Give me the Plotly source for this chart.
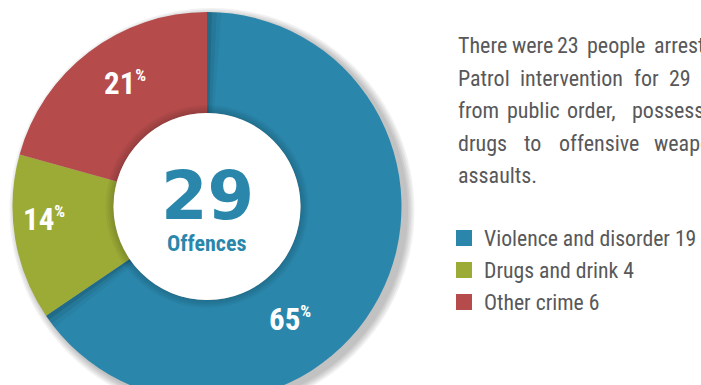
import plotly.graph_objects as go

# ---- data -------------------------------------------------------------
categories = ["Violence and disorder", "Drugs and drink", "Other crime"]
counts = [19, 4, 6]
colors = ["#2a87ab", "#9cab36", "#b54b4b"]
total_label = "Offences"

# summary paragraph, word by word (text, left edge in px)
summary_lines = [
    [("There", 456), ("were", 510), ("23", 555), ("people", 585), ("arrested", 652)],
    [("Patrol", 456), ("intervention", 518), ("for", 632), ("29", 667), ("offences", 700)],
    [("from", 456), ("public", 505), ("order,", 565), ("possession", 630)],
    [("drugs", 456), ("to", 522), ("offensive", 557), ("weapons", 652)],
    [("assaults.", 456)],
]

# ---- helpers ------------------------------------------------------------
W, H = 701, 430
FONT_NARROW = "Roboto Condensed, Liberation Sans Narrow, sans-serif"
TEXT_GREY = "#58585a"
CLEAR = "rgba(0,0,0,0)"


def px(x):
    return x / W


def py(y):
    return 1 - y / H


def disc_domain(cx, cy, r):
    return dict(x=[(cx - r) / W, (cx + r) / W], y=[1 - (cy + r) / H, 1 - (cy - r) / H])


def rounded_percents(vals):
    """Largest-remainder rounding so the shares add up to 100."""
    tot = sum(vals)
    raw = [100 * v / tot for v in vals]
    base = [int(p) for p in raw]
    left = 100 - sum(base)
    order = sorted(range(len(vals)), key=lambda i: raw[i] - base[i], reverse=True)
    for i in order[:left]:
        base[i] += 1
    return base


CX, CY, R = 207, 206.5, 194.5
HOLE_R = 93.5
total = sum(counts)

fig = go.Figure()

# soft drop shadow, thrown down and to the right
for k in range(1, 6):
    fig.add_trace(go.Pie(
        values=[1], marker=dict(colors=["rgba(0,0,0,0.05)"]),
        textinfo="none", hoverinfo="skip", showlegend=False, sort=False,
        domain=disc_domain(CX + 5, CY + 4, R + 1.6 * k),
    ))

# the donut itself
fig.add_trace(go.Pie(
    values=counts, labels=categories, hole=HOLE_R / R,
    sort=False, direction="clockwise", rotation=0,
    marker=dict(colors=colors, line=dict(width=0)),
    textinfo="none", showlegend=False,
    domain=disc_domain(CX, CY, R),
))

# shading on the blue segment where its neighbours overlap it
blue_end = counts[0] / total
for width, alpha in [(0.004, 0.10), (0.008, 0.07), (0.012, 0.04)]:
    for start in (0.0, blue_end - width):
        fig.add_trace(go.Pie(
            values=[start, width, 1 - start - width], hole=HOLE_R / R,
            sort=False, direction="clockwise", rotation=0,
            marker=dict(colors=[CLEAR, f"rgba(0,0,0,{alpha})", CLEAR], line=dict(width=0)),
            textinfo="none", hoverinfo="skip", showlegend=False,
            domain=disc_domain(CX, CY, R),
        ))

# raised centre disc casting a faint shadow on the ring
for k in (8, 6, 4, 2):
    fig.add_trace(go.Pie(
        values=[1], marker=dict(colors=["rgba(0,0,0,0.04)"]),
        textinfo="none", hoverinfo="skip", showlegend=False, sort=False,
        domain=disc_domain(CX, CY, HOLE_R + k),
    ))
fig.add_trace(go.Pie(
    values=[1], marker=dict(colors=["#ffffff"]),
    textinfo="none", hoverinfo="skip", showlegend=False, sort=False,
    domain=disc_domain(CX, CY, HOLE_R),
))

annotations = []

# centre total
annotations.append(dict(
    text=f"<b>{total}</b>", x=px(207.5), y=py(195.5),
    font=dict(family="DejaVu Sans", size=67, color=colors[0]),
))
annotations.append(dict(
    text=f"<b>{total_label}</b>", x=px(206.5), y=py(243),
    font=dict(family=FONT_NARROW, size=22, color=colors[0]),
))

# slice percentages
pcts = rounded_percents(counts)
label_pos = [(290, 319), (44, 219), (125, 83)]
for p, (lx, ly) in zip(pcts, label_pos):
    annotations.append(dict(
        text=f"<b>{p}<sup><span style='font-size:17px'>%</span></sup></b>",
        x=px(lx), y=py(ly),
        font=dict(family=FONT_NARROW, size=31, color="#ffffff"),
    ))

# paragraph
line_centres = [45.5, 78, 110.5, 143, 175.5]
for words, yc in zip(summary_lines, line_centres):
    for w, x0 in words:
        annotations.append(dict(
            text=w, x=px(x0), y=py(yc), xanchor="left",
            font=dict(family=FONT_NARROW, size=22, color=TEXT_GREY),
        ))

# legend
shapes = []
legend_rows = [238, 270, 302]
for cat, n, col, yc in zip(categories, counts, colors, legend_rows):
    shapes.append(dict(
        type="rect", xref="paper", yref="paper",
        x0=px(456), x1=px(472), y0=py(yc + 8), y1=py(yc - 8),
        fillcolor=col, line=dict(width=0),
    ))
    annotations.append(dict(
        text=f"{cat} {n}", x=px(482), y=py(yc + 0.5), xanchor="left",
        font=dict(family=FONT_NARROW, size=21.7, color=TEXT_GREY),
    ))

for a in annotations:
    a.setdefault("xref", "paper")
    a.setdefault("yref", "paper")
    a.setdefault("xanchor", "center")
    a.setdefault("yanchor", "middle")
    a["showarrow"] = False

fig.update_layout(
    width=W, height=H,
    margin=dict(l=0, r=0, t=0, b=0),
    paper_bgcolor="#ffffff", plot_bgcolor="#ffffff",
    annotations=annotations, shapes=shapes,
    showlegend=False,
)

fig.write_html(
    "out.html",
    post_script=(
        "document.documentElement.style.overflow='hidden';"
        "document.body.style.overflow='hidden';"
        "document.body.style.margin='0';"
    ),
)
